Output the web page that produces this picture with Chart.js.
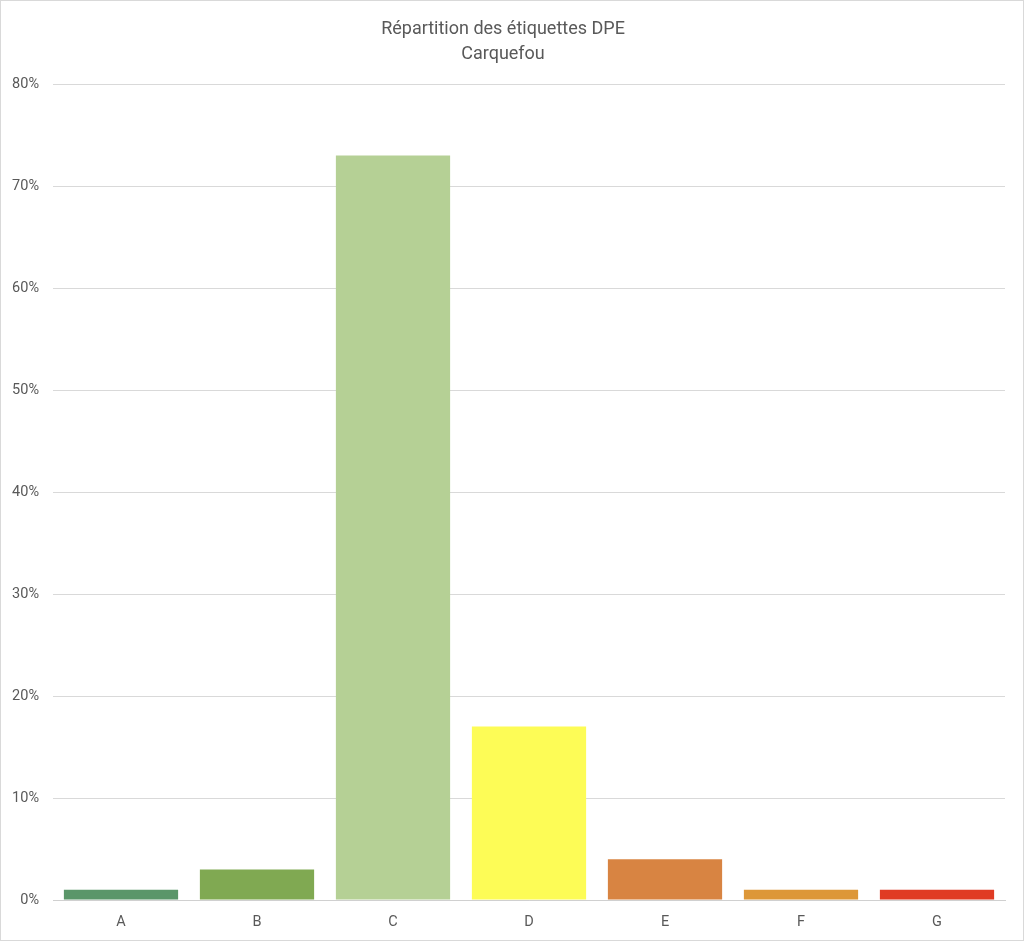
<!DOCTYPE html>
<html>
<head>
<meta charset="utf-8">
<script src="https://cdn.jsdelivr.net/npm/chart.js@4"></script>
<style>
    html, body { margin: 0; padding: 0; background: #fff; }
    #wrap { position: relative; width: 1022px; height: 939px; border: 1px solid #d9d9d9; }
</style>
</head>
<body>
<div id="wrap"><canvas id="dpeChart" width="1022" height="939"></canvas></div>
<script>
// Étiquettes DPE et part de chaque classe (%)
const labels = ['A', 'B', 'C', 'D', 'E', 'F', 'G'];
const values = [1, 3, 73, 17, 4, 1, 1];
const barColors = ['#5a9669', '#80a952', '#b5d095', '#fdfc56', '#d88442', '#dd9738', '#e03b24'];
const titleLines = ['Répartition des étiquettes DPE', 'Carquefou'];

const textColor = '#595959';
const fontFamily = 'Roboto, "Liberation Sans", sans-serif';

const ctx = document.getElementById('dpeChart').getContext('2d');
const chart = new Chart(ctx, {
    type: 'bar',
    data: {
        labels: labels,
        datasets: [{
            data: values,
            backgroundColor: barColors,
            borderWidth: 0,
            categoryPercentage: 1,
            barPercentage: 0.84
        }]
    },
    options: {
        responsive: false,
        animation: false,
        devicePixelRatio: 1,
        layout: {
            padding: { top: 16, right: 18, bottom: 6, left: 0 }
        },
        plugins: {
            legend: { display: false },
            tooltip: { enabled: false },
            title: {
                display: true,
                text: titleLines,
                color: textColor,
                font: { family: fontFamily, size: 18, weight: 'normal', lineHeight: 1.39 },
                padding: { top: 0, bottom: 17 }
            }
        },
        scales: {
            x: {
                grid: { display: false },
                border: { display: true, color: '#d0d0d0', width: 1 },
                ticks: { color: textColor, font: { family: fontFamily, size: 14.5 }, padding: 6 },
                afterFit: scale => { scale.height = 34; }
            },
            y: {
                min: 0,
                max: 80,
                ticks: {
                    stepSize: 10,
                    color: textColor,
                    padding: 14,
                    font: { family: fontFamily, size: 14.5 },
                    callback: v => v + '%'
                },
                grid: { color: '#d9d9d9', lineWidth: 1, drawTicks: false },
                border: { display: false },
                afterFit: scale => { scale.width = 52; }
            }
        }
    }
});
</script>
</body>
</html>
